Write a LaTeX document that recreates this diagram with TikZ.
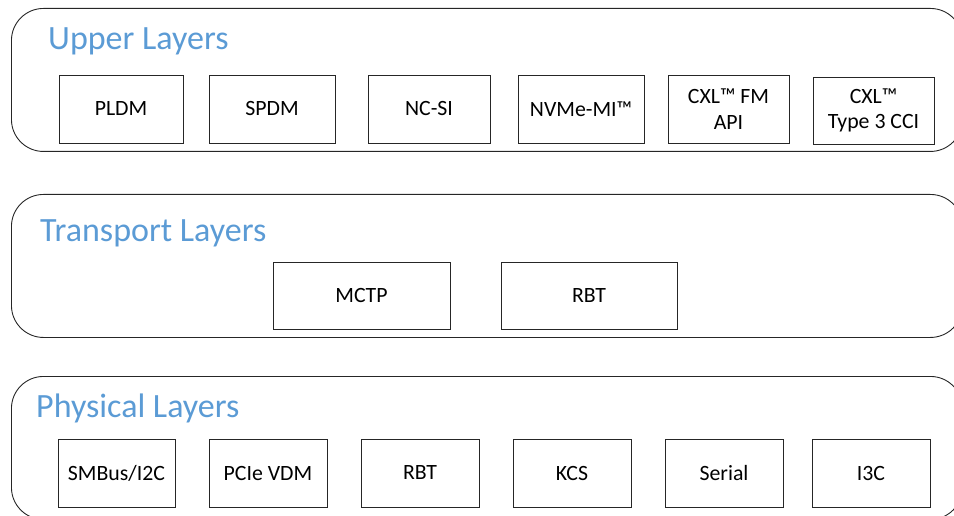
\documentclass[tikz,border=0pt]{standalone}
\usepackage{fontspec}
\setmainfont{Carlito}
\definecolor{titleblue}{HTML}{5B9BD5}
\begin{document}
\begin{tikzpicture}[x=1pt,y=-1pt,
  layer/.style={draw=black!85, line width=0.9pt, rounded corners=32pt, inner sep=0pt,
    minimum width=951pt, minimum height=143pt, anchor=north west},
  title/.style={text=titleblue, font=\fontsize{34}{41}\selectfont, anchor=base west, inner sep=0pt},
  item/.style={draw=black!85, line width=0.8pt, inner sep=0pt, align=center,
    font=\fontsize{21.8}{25.5}\selectfont, minimum height=68pt}
]
\useasboundingbox (0,0) rectangle (954,516);

% layer frames
\node[layer] (upper) at (11,8) {};
\node[layer] (transport) at (11,194) {};
\node[layer] (physical) at (11,376) {};

% titles
\node[title] (tupper) at (48,50) {Upper Layers};
\node[title] (ttransport) at (40,241) {Transport Layers};
\node[title] (tphysical) at (36,417) {Physical Layers};

% upper layer boxes
\node[item, minimum width=124pt] (pldm) at (121,109) {PLDM};
\node[item, minimum width=126pt] (spdm) at (272,109) {SPDM};
\node[item, minimum width=122pt] (ncsi) at (429,109) {NC-SI};
\node[item, minimum width=126pt] (nvme) at (581,109) {NVMe-MI™};
\node[item, minimum width=121pt] (cxlfm) at (728.5,109) {CXL™ FM\\API};
\node[item, minimum width=121pt, minimum height=67pt] (cxlt3) at (873.5,110.5) {CXL™\\Type 3 CCI};

% transport layer boxes
\node[item, minimum width=177pt, minimum height=67pt] (mctp) at (361.5,295.5) {MCTP};
\node[item, minimum width=176pt, minimum height=67pt] (rbtt) at (589,295.5) {RBT};

% physical layer boxes
\node[item, minimum width=117pt] (smbus) at (116.5,473) {SMBus/I2C};
\node[item, minimum width=118pt] (pcie) at (268,473) {PCIe VDM};
\node[item, minimum width=118pt] (rbtp) at (420,473) {RBT};
\node[item, minimum width=118pt] (kcs) at (572,473) {KCS};
\node[item, minimum width=118pt] (serial) at (724,473) {Serial};
\node[item, minimum width=118pt] (ithreec) at (871,473) {I3C};
\end{tikzpicture}
\end{document}
